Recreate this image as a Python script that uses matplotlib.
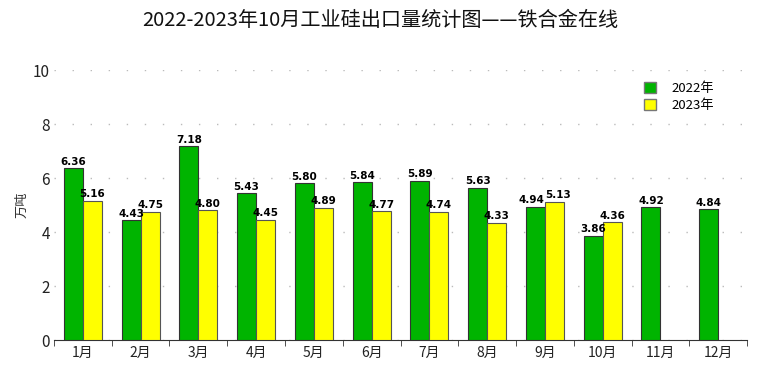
import matplotlib
matplotlib.use("Agg")
import matplotlib.pyplot as plt
import numpy as np
from matplotlib.patches import Patch

plt.rcParams["font.family"] = ["Noto Sans CJK SC", "DejaVu Sans"]

months = ["1月", "2月", "3月", "4月", "5月", "6月", "7月", "8月", "9月", "10月", "11月", "12月"]
vals_2022 = [6.36, 4.43, 7.18, 5.43, 5.80, 5.84, 5.89, 5.63, 4.94, 3.86, 4.92, 4.84]
vals_2023 = [5.16, 4.75, 4.80, 4.45, 4.89, 4.77, 4.74, 4.33, 5.13, 4.36]
series_names = ["2022年", "2023年"]

green = "#00b400"
yellow = "#ffff00"

fig = plt.figure(figsize=(7.6, 3.75), dpi=100)
ax = fig.add_axes([0.071, 0.0933, 0.912, 0.72])

x = np.arange(len(months))
w = 0.33
ax.bar(x[:len(vals_2022)] - w / 2, vals_2022, width=w, color=green,
       edgecolor="#333333", linewidth=0.8, zorder=3)
ax.bar(x[:len(vals_2023)] + w / 2, vals_2023, width=w, color=yellow,
       edgecolor="#555555", linewidth=0.8, zorder=3)

for i, v in enumerate(vals_2022):
    # nudge apart when the two labels of a month sit at nearly the same height
    shift = 0.07 if i < len(vals_2023) and abs(v - vals_2023[i]) < 0.3 else 0
    ax.text(i - w / 2 - shift, v + 0.06, f"{v:.2f}", ha="center", va="bottom",
            fontsize=7.5, fontweight="bold", family="DejaVu Sans", zorder=5)
for i, v in enumerate(vals_2023):
    shift = 0.07 if abs(v - vals_2022[i]) < 0.3 else 0
    ax.text(i + w / 2 + shift, v + 0.06, f"{v:.2f}", ha="center", va="bottom",
            fontsize=7.5, fontweight="bold", family="DejaVu Sans", zorder=5)

ax.set_xlim(-0.5, len(months) - 0.5)
ax.set_ylim(0, 10)
ax.set_yticks([0, 2, 4, 6, 8, 10])
ax.yaxis.grid(True, color="#bbbbbb", linestyle=(0, (1, 12)), linewidth=1.0)
ax.set_axisbelow(True)

ax.set_xticks(x)
ax.set_xticklabels(months, fontsize=10)
ax.set_xticks(np.arange(-0.5, len(months)), minor=True)
ax.tick_params(axis="x", which="major", length=0, pad=4, colors="#222222")
ax.tick_params(axis="x", which="minor", length=4, color="#333333", direction="out")
ax.tick_params(axis="y", length=0, labelsize=11, colors="#222222", pad=3)

for side in ["top", "right", "left"]:
    ax.spines[side].set_visible(False)
ax.spines["bottom"].set_color("#333333")

fig.text(22 / 760, 1 - 205 / 375, "万吨", rotation=90, fontsize=9.5,
         color="#333333", ha="center", va="center")

handles = [Patch(facecolor=green, edgecolor="#777777", label=series_names[0]),
           Patch(facecolor=yellow, edgecolor="#777777", label=series_names[1])]
ax.legend(handles=handles, loc="upper right", bbox_to_anchor=(0.97, 1.0),
          frameon=False, fontsize=9.5, handlelength=0.9, handleheight=0.9,
          handletextpad=1.2, labelspacing=0.3)

fig.suptitle("2022-2023年10月工业硅出口量统计图——铁合金在线", y=0.972,
             fontsize=14.5, color="#111111")

fig.savefig("out.png", dpi=100, facecolor="white")
